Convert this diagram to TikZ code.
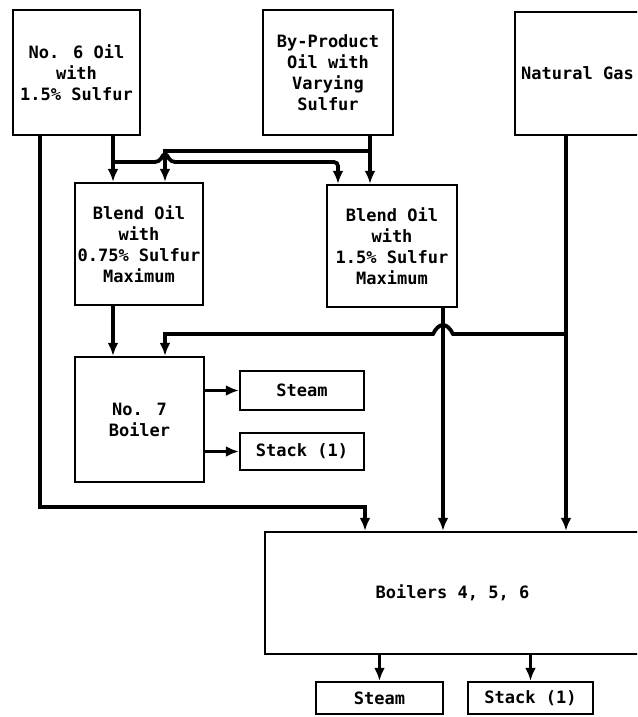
\documentclass[tikz,border=0pt]{standalone}
\usepackage{fontspec}
\setmainfont{DejaVu Sans Mono}
\usetikzlibrary{arrows.meta}
\usetikzlibrary{calc}
\tikzset{>={Latex[length=6.5pt,width=5.5pt]}}
\tikzset{box/.style={draw,line width=1.2pt,inner sep=0pt,align=center,font=\fontsize{8.5}{10.5}\selectfont\bfseries}}
\tikzset{flow/.style={line width=1.9pt,->}}

\begin{document}
\begin{tikzpicture}[x=0.5pt,y=-0.5pt]
    \useasboundingbox (0,0) rectangle (637,717);
    \clip (0,0) rectangle (637,717);
    % sources
    \node[box,minimum width=63.5pt,minimum height=62.5pt] (oil6) at (76.5,72.5) {No. 6 Oil\\with\\1.5\% Sulfur};
    \node[box,minimum width=65pt,minimum height=62.5pt] (byprod) at (328,72.5) {By-Product\\Oil with\\Varying\\Sulfur};
    \node[box,minimum width=62.5pt,minimum height=61.5pt] (gas) at (577.5,73.5) {Natural Gas};
    % blends
    \node[box,minimum width=64pt,minimum height=61pt] (blendlow) at (139,244) {Blend Oil\\with\\0.75\% Sulfur\\Maximum};
    \node[box,minimum width=65pt,minimum height=61pt] (blendhigh) at (392,246) {Blend Oil\\with\\1.5\% Sulfur\\Maximum};
    % no. 7 boiler
    \node[box,minimum width=64.5pt,minimum height=62.5pt] (boiler7) at (139.5,419.5) {No. 7\\Boiler};
    \node[box,minimum width=62pt,minimum height=19.5pt] (steam7) at (302,390.5) {Steam};
    \node[box,minimum width=62pt,minimum height=18.5pt] (stack7) at (302,451.5) {Stack (1)};
    % boilers 4, 5, 6
    \node[box,minimum width=187.5pt,minimum height=61pt] (boilers) at (452.5,593) {Boilers 4, 5, 6};
    \node[box,minimum width=63.5pt,minimum height=16pt] (steam) at (379.5,698) {Steam};
    \node[box,minimum width=62.5pt,minimum height=16pt] (stack) at (530.5,698) {Stack (1)};

    \coordinate (bendA) at (40,507);
    \coordinate (bendB) at (365,507);
    \coordinate (jA) at (113,162);
    \coordinate (jB) at (338,162);
    \coordinate (jC) at (370,151);
    \coordinate (jD) at (165,151);
    \coordinate (jE) at (566,334);
    \coordinate (jF) at (165,334);
    \coordinate (jG) at (443,334);

    % no. 6 oil
    \draw[flow] (oil6.south -| bendA) -- (bendA) -- (bendB) -- (boilers.north -| bendB);
    \draw[flow] (oil6.south -| jA) -- (blendlow.north -| jA);
    \draw[flow,rounded corners=2pt] (jA) -- ($(jD |- jA)+(-6,0)$) -- ($(jD |- jA)+(0,-10)$) -- ($(jD |- jA)+(6,0)$) -- (jB) -- (blendhigh.north -| jB);
    % by-product oil
    \draw[flow] (byprod.south -| jC) -- (blendhigh.north -| jC);
    \draw[flow] (jC) -- (jD) -- (blendlow.north -| jD);
    % blends and gas
    \draw[flow] (blendlow.south -| jA) -- (boiler7.north -| jA);
    \draw[flow] (blendhigh.south -| jG) -- (boilers.north -| jG);
    \draw[flow] (gas.south -| jE) -- (boilers.north -| jE);
    \draw[flow] (jE) -- ($(jG)+(10,0)$) .. controls ($(jG)+(4,-12)$) and ($(jG)+(-4,-12)$) .. ($(jG)+(-10,0)$) -- (jF) -- (boiler7.north -| jF);
    % outputs
    \draw[flow] (boiler7.east |- steam7) -- (steam7.west);
    \draw[flow] (boiler7.east |- stack7) -- (stack7.west);
    \draw[flow] (boilers.south -| steam) -- (steam.north);
    \draw[flow] (boilers.south -| stack) -- (stack.north);
\end{tikzpicture}
\end{document}
